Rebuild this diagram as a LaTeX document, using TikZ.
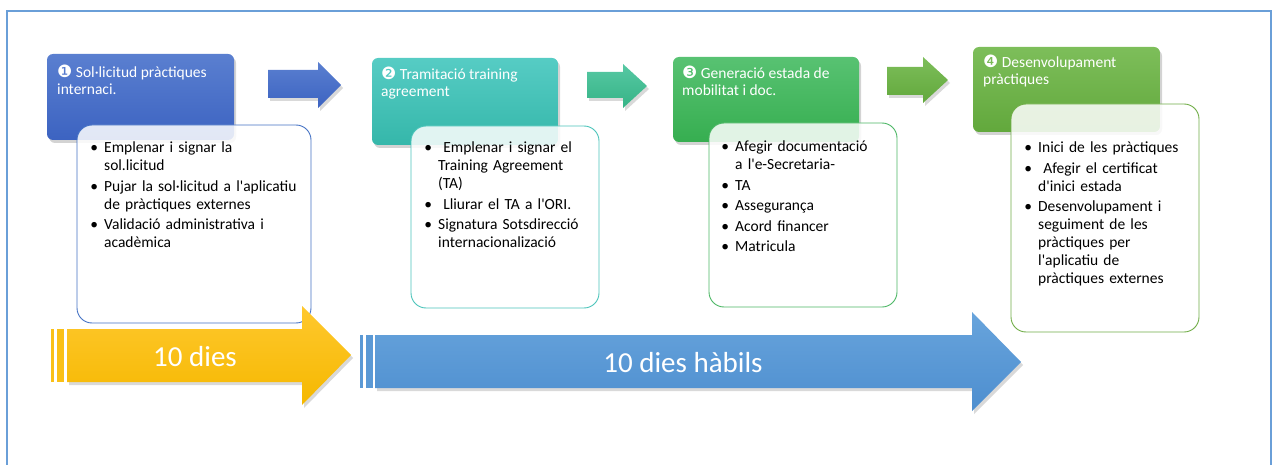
\documentclass[tikz,border=0pt]{standalone}
\usepackage{fontspec}
\setmainfont{Carlito}[Ligatures=TeXOff]
\newfontfamily\dingfont{DejaVu Sans}
\usepackage{enumitem}
\usepackage{xcolor}
\usetikzlibrary{shadows}

\definecolor{frameblue}{HTML}{6A9FD8}
\definecolor{blueTop}{HTML}{5A7FD0}
\definecolor{blueBot}{HTML}{3C63C1}
\definecolor{tealTop}{HTML}{56CCC4}
\definecolor{tealBot}{HTML}{35B7AA}
\definecolor{greenTop}{HTML}{58C272}
\definecolor{greenBot}{HTML}{36AE50}
\definecolor{limeTop}{HTML}{7DBE5A}
\definecolor{limeBot}{HTML}{62A83C}
\definecolor{blueLine}{HTML}{4472C4}
\definecolor{tealLine}{HTML}{4BC4BA}
\definecolor{greenLine}{HTML}{4CB765}
\definecolor{limeLine}{HTML}{70AD47}
\definecolor{yelTop}{HTML}{FFC82E}
\definecolor{yelBot}{HTML}{F5B800}
\definecolor{skyTop}{HTML}{68A4DC}
\definecolor{skyBot}{HTML}{4D8ECF}

\setlist[itemize]{label=\textbullet, leftmargin=13pt, labelsep=6pt, itemsep=2.5pt,
    parsep=0pt, topsep=0pt, partopsep=0pt}

\tikzset{
    header/.style={rounded corners=6pt,
        drop shadow={opacity=0.35, shadow xshift=2pt, shadow yshift=-3pt}},
    card/.style={rounded corners=15pt, fill=white, fill opacity=0.85, line width=0.9pt},
    blockarrow/.style={drop shadow={opacity=0.3, shadow xshift=2pt, shadow yshift=-3pt}},
    title/.style={anchor=north west, text=white, align=left, inner sep=0pt,
        font=\fontsize{15.5}{17}\selectfont},
    bullets/.style={anchor=north west, inner sep=0pt, align=left,
        font=\fontsize{15.5}{18}\selectfont},
    days/.style={text=white, inner sep=0pt, font=\fontsize{29}{30}\selectfont},
}
\newcommand{\stepno}[1]{{\dingfont\fontsize{17}{17}\selectfont#1}}

\begin{document}
\begin{tikzpicture}[x=1pt, y=-1pt]
                \useasboundingbox (0,0) rectangle (1276,465);
                \draw[frameblue, line width=2pt] (7,475) -- (7,11) -- (1271,11) -- (1271,475);

                \shade[header, top color=blueTop, bottom color=blueBot] (47,54) rectangle (234,140);
                \shade[header, top color=tealTop, bottom color=tealBot] (372,58) rectangle (558,145);
                \shade[header, top color=greenTop, bottom color=greenBot] (673,57) rectangle (859,142);
                \shade[header, top color=limeTop, bottom color=limeBot] (973,47) rectangle (1160,132);

                \shade[blockarrow, top color=blueTop, bottom color=blueBot]
                    (268,70) -- (318,70) -- (318,62) -- (341,85) -- (318,108) -- (318,98) -- (268,98) -- cycle;
                \shade[blockarrow, top color=tealTop!60!greenTop, bottom color=tealBot!60!greenBot]
                    (587,72) -- (623,72) -- (623,64) -- (647,86) -- (623,108) -- (623,98) -- (587,98) -- cycle;
                \shade[blockarrow, top color=limeTop, bottom color=limeBot]
                    (887,67) -- (923,67) -- (923,57) -- (948,80) -- (923,103) -- (923,95) -- (887,95) -- cycle;

                \draw[card, draw=blueLine] (77,125) rectangle (311,323);
                \draw[card, draw=tealLine] (411,126) rectangle (599,308);
                \draw[card, draw=greenLine] (709,123) rectangle (897,307);
                \draw[card, draw=limeLine] (1011,104) rectangle (1199,332);

                \node[title] (title1) at (57,65) {\stepno{❶} Sol·licitud pràctiques\\internaci.};
                \node[title] (title2) at (381,67) {\stepno{❷} Tramitació training\\agreement};
                \node[title] (title3) at (682,66) {\stepno{❸} Generació estada de\\mobilitat i doc.};
                \node[title] (title4) at (983,55) {\stepno{❹} Desenvolupament\\pràctiques};

                \node[bullets, text width=215pt] (list1) at (91,134.6) {\begin{itemize}
                    \item Emplenar i signar la\newline sol.licitud
                    \item Pujar la sol·licitud a l'aplicatiu\newline de pràctiques externes
                    \item Validació administrativa i\newline acadèmica
                \end{itemize}};
                \node[bullets, text width=170pt] (list2) at (425,134.6) {\begin{itemize}
                    \item \ Emplenar i signar el\newline Training Agreement\newline (TA)
                    \item \ Lliurar el TA a l'ORI.
                    \item Signatura Sotsdirecció\newline internacionalizació
                \end{itemize}};
                \node[bullets, text width=170pt] (list3) at (722,133.6) {\begin{itemize}
                    \item Afegir documentació\newline a l'e-Secretaria-
                    \item TA
                    \item Assegurança
                    \item Acord financer
                    \item Matricula
                \end{itemize}};
                \node[bullets, text width=170pt] (list4) at (1025,134.6) {\begin{itemize}
                    \item Inici de les pràctiques
                    \item \ Afegir el certificat\newline d'inici estada
                    \item Desenvolupament i\newline seguiment de les\newline pràctiques per\newline l'aplicatiu de\newline pràctiques externes
                \end{itemize}};

                \shade[blockarrow, top color=yelTop, bottom color=yelBot]
                    (67,329) -- (302,329) -- (302,306) -- (351,355) -- (302,405) -- (302,382) -- (67,382) -- cycle;
                \fill[yelTop!50!yelBot] (51,329) rectangle (54,382);
                \fill[yelTop!50!yelBot] (57,329) rectangle (64,382);
                \shade[blockarrow, top color=skyTop, bottom color=skyBot]
                    (375,335) -- (972,335) -- (972,312) -- (1021,362) -- (972,411) -- (972,388) -- (375,388) -- cycle;
                \fill[skyTop!50!skyBot] (360,335) rectangle (363,388);
                \fill[skyTop!50!skyBot] (366,335) rectangle (373,388);

                \node[days] (days1) at (195,357) {10 dies};
                \node[days] (days2) at (683,363) {10 dies hàbils};
\end{tikzpicture}
\end{document}
